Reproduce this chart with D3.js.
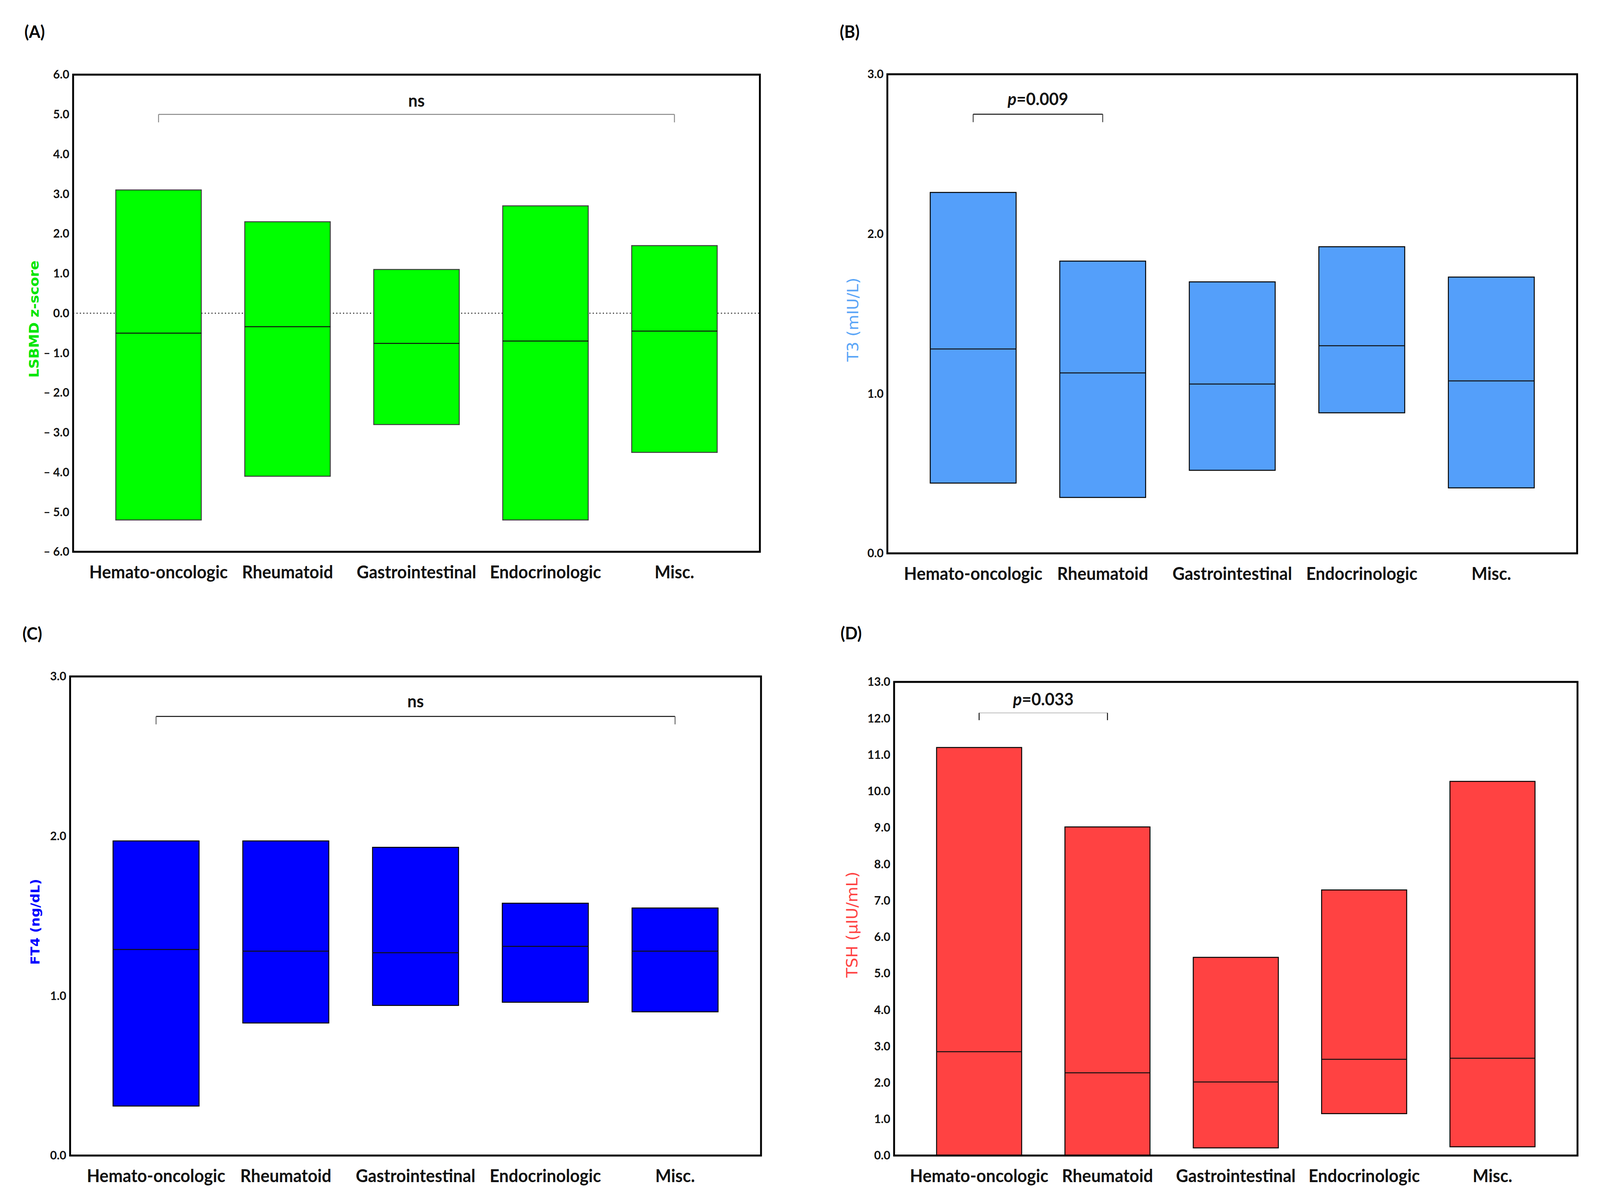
<!DOCTYPE html>
<html>
<head>
<meta charset="utf-8">
<script src="https://cdn.jsdelivr.net/npm/d3@7"></script>
<style>
  html, body { margin: 0; padding: 0; background: #ffffff; overflow: hidden; width: 100%; height: 100%; }
  svg { display: block; width: 100vw; height: 100vh; }
</style>
</head>
<body>
<script>
// ---------------- DATA ----------------
const categories = ["Hemato-oncologic", "Rheumatoid", "Gastrointestinal", "Endocrinologic", "Misc."];

// (A) LSBMD z-score
const lsbmdLow    = [-5.2, -4.1, -2.8, -5.2, -3.5];
const lsbmdHigh   = [3.1, 2.3, 1.1, 2.7, 1.7];
const lsbmdMedian = [-0.5, -0.34, -0.76, -0.7, -0.45];
const lsbmdTicks  = [-6, -5, -4, -3, -2, -1, 0, 1, 2, 3, 4, 5, 6];

// (B) T3 (mIU/L)
const t3Low    = [0.44, 0.35, 0.52, 0.88, 0.41];
const t3High   = [2.26, 1.83, 1.70, 1.92, 1.73];
const t3Median = [1.28, 1.13, 1.06, 1.30, 1.08];
const t3Ticks  = [0, 1, 2, 3];

// (C) FT4 (ng/dL)
const ft4Low    = [0.31, 0.83, 0.94, 0.96, 0.90];
const ft4High   = [1.97, 1.97, 1.93, 1.58, 1.55];
const ft4Median = [1.29, 1.28, 1.27, 1.31, 1.28];
const ft4Ticks  = [0, 1, 2, 3];

// (D) TSH (µIU/mL)
const tshLow    = [0, 0, 0.21, 1.15, 0.24];
const tshHigh   = [11.2, 9.02, 5.44, 7.29, 10.27];
const tshMedian = [2.85, 2.27, 2.02, 2.64, 2.67];
const tshTicks  = [0, 1, 2, 3, 4, 5, 6, 7, 8, 9, 10, 11, 12, 13];

// significance annotations
const lsbmdBracket = { from: 0, to: 4, at: 5.0, end: 4.8, labelAt: 5.36, text: "ns" };
const t3Bracket    = { from: 0, to: 1, at: 2.75, end: 2.70, labelAt: 2.85, p: "0.009" };
const ft4Bracket   = { from: 0, to: 4, at: 2.75, end: 2.70, labelAt: 2.85, text: "ns" };
const tshBracket   = { from: 0, to: 1, at: 12.15, end: 11.95, labelAt: 12.54, p: "0.033" };

// ---------------- LAYOUT / STYLE ----------------
const W = 4268, H = 3081;
const labelFont = "Lato, 'Open Sans', 'Liberation Sans', sans-serif";
const titleFont = "'DejaVu Sans', Verdana, sans-serif";

const panels = [
  { tag: "(A)", tagX: 65, tagY: 97, left: 195, right: 2027, top: 191, bottom: 1412,
    domain: [-6, 6], ticks: lsbmdTicks, low: lsbmdLow, high: lsbmdHigh, median: lsbmdMedian,
    fill: "#00ff00", stroke: "#3c3c3c", title: "LSBMD z-score", titleColor: "#00e600", titleWeight: "bold",
    titleSize: 36, titleX: 90, zeroLine: true, bracket: lsbmdBracket, bracketColor: "#8a8a8a", bracketTickColor: "#8a8a8a" },
  { tag: "(B)", tagX: 2240, tagY: 97, left: 2367, right: 4207, top: 190, bottom: 1416,
    domain: [0, 3], ticks: t3Ticks, low: t3Low, high: t3High, median: t3Median,
    fill: "#549ffa", stroke: "#000000", title: "T3 (mIU/L)", titleColor: "#5aa5f7", titleWeight: "normal",
    titleSize: 41, titleX: 2275, zeroLine: false, bracket: t3Bracket, bracketColor: "#111111", bracketTickColor: "#444444" },
  { tag: "(C)", tagX: 60, tagY: 1637, left: 187, right: 2030, top: 1731, bottom: 2957,
    domain: [0, 3], ticks: ft4Ticks, low: ft4Low, high: ft4High, median: ft4Median,
    fill: "#0000ff", stroke: "#000000", title: "FT4 (ng/dL)", titleColor: "#0000ff", titleWeight: "bold",
    titleSize: 34, titleX: 93, zeroLine: false, bracket: ft4Bracket, bracketColor: "#111111", bracketTickColor: "#666666" },
  { tag: "(D)", tagX: 2242, tagY: 1636, left: 2385, right: 4208, top: 1745, bottom: 2957,
    domain: [0, 13], ticks: tshTicks, low: tshLow, high: tshHigh, median: tshMedian,
    fill: "#ff4242", stroke: "#000000", title: "TSH (\u00b5IU/mL)", titleColor: "#ff4242", titleWeight: "normal",
    titleSize: 41, titleX: 2273, zeroLine: false, bracket: tshBracket, bracketColor: "#c8c8c8", bracketTickColor: "#111111" }
];

const svg = d3.select("body").append("svg")
  .attr("viewBox", `0 0 ${W} ${H}`)
  .attr("preserveAspectRatio", "none");

svg.append("rect").attr("width", W).attr("height", H).attr("fill", "#ffffff");

function tickFmt(d) {
  return d < 0 ? "\u2013 " + Math.abs(d).toFixed(1) : d.toFixed(1);
}

panels.forEach(p => {
  const g = svg.append("g");

  const x = d3.scaleBand().domain(categories)
    .range([p.left, p.right])
    .paddingInner(0.337).paddingOuter(0.331);
  const y = d3.scaleLinear().domain(p.domain).range([p.bottom, p.top]);

  // panel tag
  g.append("text")
    .attr("x", p.tagX).attr("y", p.tagY)
    .attr("font-family", labelFont).attr("font-weight", "bold")
    .attr("font-size", 44).attr("fill", "#000")
    .text(p.tag);

  // zero reference line
  if (p.zeroLine) {
    g.append("line")
      .attr("x1", p.left).attr("x2", p.right)
      .attr("y1", y(0)).attr("y2", y(0))
      .attr("stroke", "#222").attr("stroke-width", 2.5)
      .attr("stroke-dasharray", "3,6");
  }

  // range bars
  const data = categories.map((c, i) => ({ c, lo: p.low[i], hi: p.high[i], med: p.median[i] }));
  g.selectAll("rect.bar").data(data).join("rect")
    .attr("class", "bar")
    .attr("x", d => x(d.c))
    .attr("width", x.bandwidth())
    .attr("y", d => y(d.hi))
    .attr("height", d => y(d.lo) - y(d.hi))
    .attr("fill", p.fill)
    .attr("stroke", p.stroke)
    .attr("stroke-width", 2.5);

  // medians
  g.selectAll("line.med").data(data).join("line")
    .attr("class", "med")
    .attr("x1", d => x(d.c)).attr("x2", d => x(d.c) + x.bandwidth())
    .attr("y1", d => y(d.med)).attr("y2", d => y(d.med))
    .attr("stroke", "#111").attr("stroke-width", 2.5);

  // significance bracket
  const b = p.bracket;
  const bx1 = x(categories[b.from]) + x.bandwidth() / 2;
  const bx2 = x(categories[b.to]) + x.bandwidth() / 2;
  g.append("line")
    .attr("x1", bx1).attr("x2", bx2)
    .attr("y1", y(b.at)).attr("y2", y(b.at))
    .attr("stroke", p.bracketColor).attr("stroke-width", 2.5);
  [bx1, bx2].forEach(bx => {
    g.append("line")
      .attr("x1", bx).attr("x2", bx)
      .attr("y1", y(b.at)).attr("y2", y(b.end))
      .attr("stroke", p.bracketTickColor).attr("stroke-width", 2.5);
  });
  const bt = g.append("text")
    .attr("x", (bx1 + bx2) / 2).attr("y", y(b.labelAt))
    .attr("text-anchor", "middle").attr("dominant-baseline", "central")
    .attr("font-family", labelFont).attr("font-weight", "bold")
    .attr("font-size", 44).attr("fill", "#111");
  if (b.p) {
    bt.append("tspan").attr("font-style", "italic").text("p");
    bt.append("tspan").text("=" + b.p);
  } else {
    bt.text(b.text);
  }

  // y axis (labels only)
  const ya = g.append("g")
    .attr("transform", `translate(${p.left},0)`)
    .call(d3.axisLeft(y).tickValues(p.ticks).tickSize(0).tickPadding(10).tickFormat(tickFmt));
  ya.select(".domain").remove();
  ya.selectAll("text")
    .attr("font-family", labelFont).attr("font-weight", "bold")
    .attr("font-size", 31).attr("fill", "#111");

  // x axis (labels only)
  const xa = g.append("g")
    .attr("transform", `translate(0,${p.bottom})`)
    .call(d3.axisBottom(x).tickSize(0).tickPadding(36));
  xa.select(".domain").remove();
  xa.selectAll("text")
    .attr("font-family", labelFont).attr("font-weight", "bold")
    .attr("font-size", 45).attr("fill", "#111");

  // frame
  g.append("rect")
    .attr("x", p.left).attr("y", p.top)
    .attr("width", p.right - p.left).attr("height", p.bottom - p.top)
    .attr("fill", "none").attr("stroke", "#000").attr("stroke-width", 5);

  // y title
  const cy = (p.top + p.bottom) / 2 + 15;
  g.append("text")
    .attr("transform", `translate(${p.titleX},${cy}) rotate(-90)`)
    .attr("text-anchor", "middle").attr("dominant-baseline", "central")
    .attr("font-family", titleFont).attr("font-weight", p.titleWeight)
    .attr("font-size", p.titleSize).attr("fill", p.titleColor)
    .text(p.title);
});
</script>
</body>
</html>
